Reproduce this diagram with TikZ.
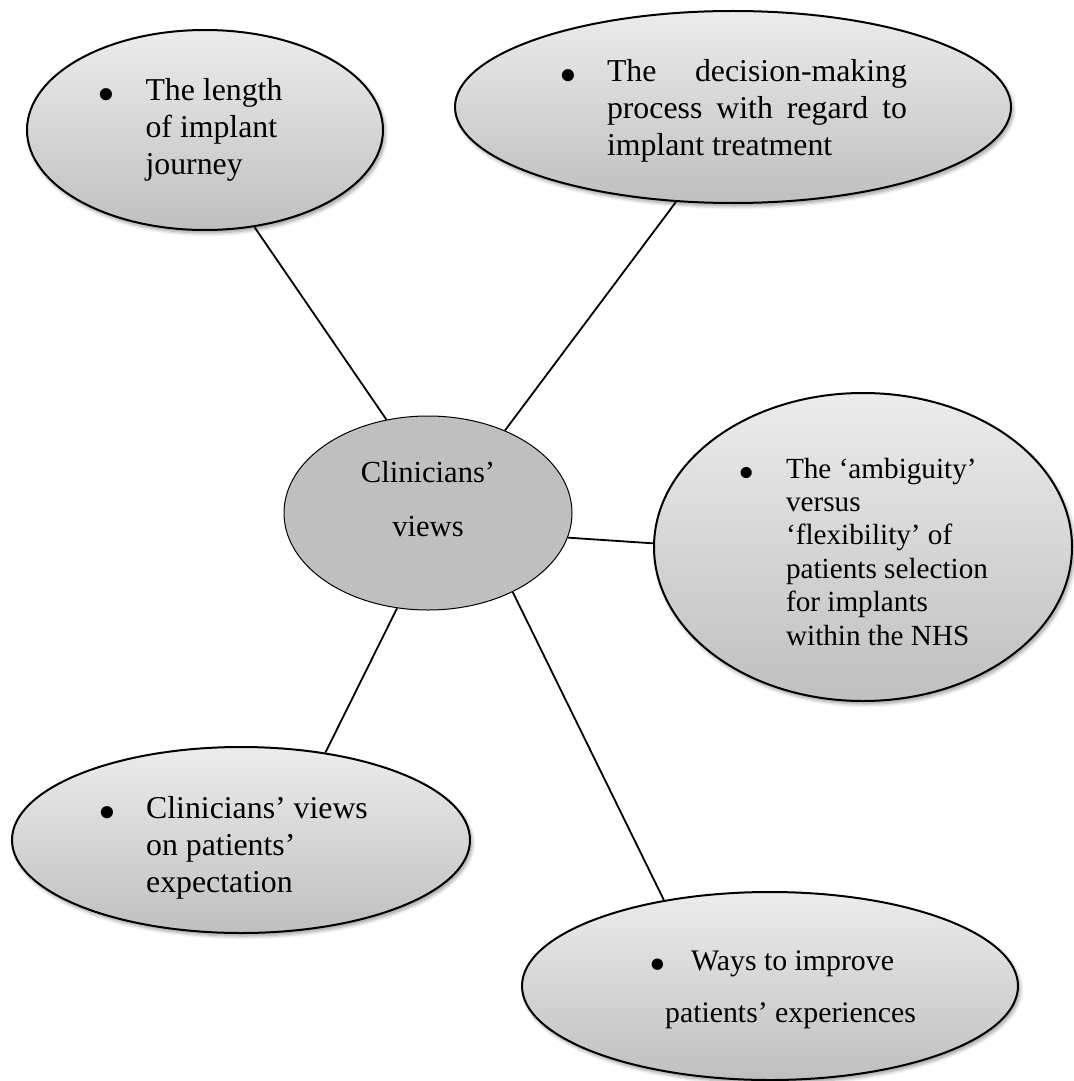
\documentclass[tikz,border=0pt]{standalone}
\usepackage{fontspec}
\setmainfont{Liberation Serif}
\usetikzlibrary{shapes.geometric,shadows.blur}

\newcommand{\puce}{\raisebox{-0.34em}{\scalebox{1.6}{\textbullet}}}
\newcommand{\itm}[2][0pt]{\makebox[24pt][l]{\rule{0pt}{#1}\puce}\begin{tabular}[t]{@{}l@{}}#2\end{tabular}}

\begin{document}
\begin{tikzpicture}[x=0.5pt,y=-0.5pt]
\tikzset{theme/.style={draw, ellipse, line width=1pt, inner sep=0pt, top color=gray!15, bottom color=gray!50, blur shadow={shadow xshift=1pt, shadow yshift=-1.5pt, shadow blur steps=6, shadow opacity=40}, font=\fontsize{15.9}{18.5}\selectfont},
centre/.style={draw, ellipse, line width=0.5pt, fill=gray!50, inner sep=0pt, font=\fontsize{15.3}{27}\selectfont},
lien/.style={line width=0.9pt}}
\useasboundingbox (0,0) rectangle (1073,1081);
\node[centre, minimum width=144pt, minimum height=97pt] (C) at (428,513) {\begin{tabular}{@{}c@{}}Clinicians’\\views\rule[-22pt]{0pt}{22pt}\end{tabular}};
\node[theme, minimum width=178pt, minimum height=100pt] (T1) at (205,130) {\itm{The length\\of implant\\journey}\rule{15pt}{0pt}};
\node[theme, minimum width=278pt, minimum height=96pt] (T2) at (733,107) {\itm[17.5pt]{\makebox[150pt][s]{The decision-making}\\\makebox[150pt][s]{process with regard to}\\implant treatment}};
\node[theme, font=\fontsize{14.6}{16.7}\selectfont, minimum width=209pt, minimum height=154pt] (T3) at (863,547) {\itm[19.7pt]{The ‘ambiguity’\\versus\\‘flexibility’ of\\patients selection\\for implants\\within the NHS}};
\node[theme, minimum width=229pt, minimum height=93pt] (T4) at (241,840) {\itm[21pt]{Clinicians’ views\\on patients’\\expectation}\rule{8pt}{0pt}};
\node[theme, font=\fontsize{14.9}{26}\selectfont, minimum width=248pt, minimum height=94pt] (T5) at (770,986) {\begin{tabular}{@{\hspace{12.5pt}}l@{}}\makebox[21pt][l]{\puce}Ways to improve\\\hspace*{8pt}patients’ experiences\end{tabular}};
\draw[lien] (C.114) -- (T1.-63);
\draw[lien] (C.47) -- (T2.239);
\draw[lien] (C.-10) -- (T3.179);
\draw[lien] (C.252) -- (T4.46);
\draw[lien] (C.-43) -- (T5.141);
\end{tikzpicture}
\end{document}
